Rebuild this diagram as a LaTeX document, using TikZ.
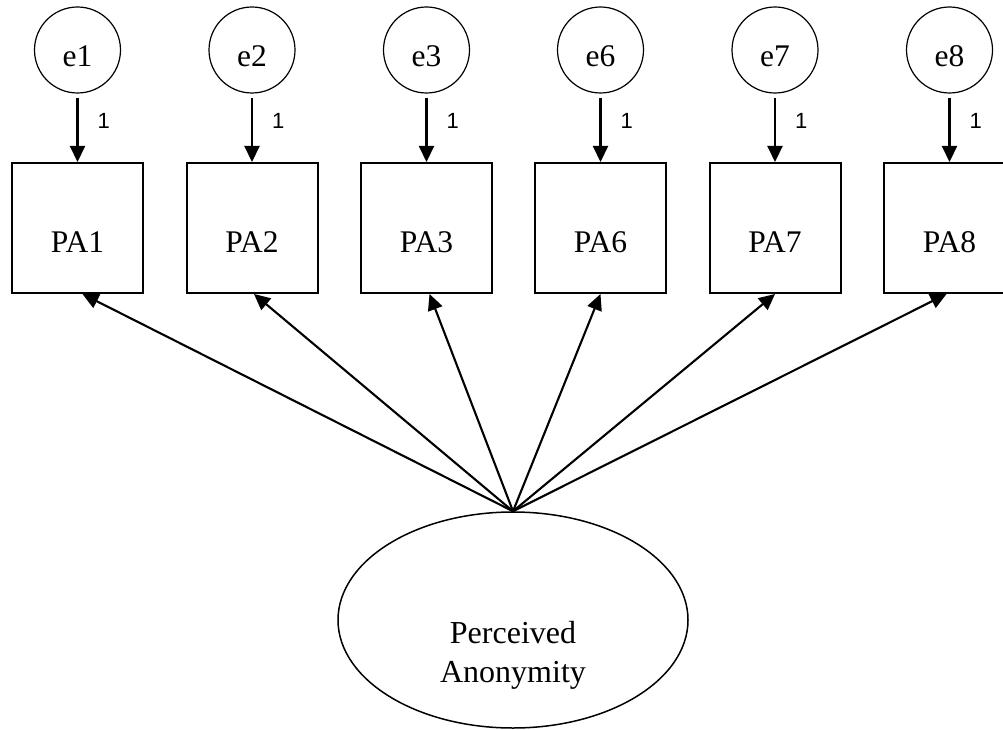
\documentclass[tikz,border=0pt]{standalone}
\usepackage{fontspec}
\setmainfont{Liberation Serif}
\newfontfamily\numfont{Liberation Sans}
\usetikzlibrary{arrows.meta,calc,shapes.geometric}
\tikzset{
  errc/.style={circle,draw,line width=1.2pt,inner sep=0pt,minimum size=86pt,
    font=\fontsize{31.5}{38}\selectfont,text height=34pt,text depth=0pt},
  obsbox/.style={rectangle,draw,line width=2pt,inner sep=0pt,minimum width=131pt,minimum height=130pt,
    font=\fontsize{31.5}{38}\selectfont,text height=48pt,text depth=0pt},
  latent/.style={ellipse,draw,line width=1.5pt,inner sep=0pt,minimum width=350pt,minimum height=216pt},
  ltext/.style={anchor=base,inner sep=0pt,font=\fontsize{32}{38}\selectfont},
  arr/.style={line width=2.1pt,-{Triangle[length=16pt,width=15pt]}},
  onelab/.style={anchor=west,inner sep=0pt,xshift=19pt,font=\numfont\fontsize{22}{26}\selectfont}
}
\begin{document}
\begin{tikzpicture}[x=1pt,y=-1pt]
\useasboundingbox (0,0) rectangle (1003,730);
\foreach \n/\x in {1/77.5,2/252,3/426.5,6/600.5,7/775,8/949.5}{
  \node[errc] (e\n) at (\x,50) {e\n};
  \node[obsbox] (PA\n) at (\x,228) {PA\n};
  \draw[arr,shorten <=4pt] (e\n) -- (PA\n) node[onelab,pos=0.4] {1};
}
\node[latent] (lat) at (513,620) {};
\node[ltext] (lat1) at (513,643) {Perceived};
\node[ltext] (lat2) at (513,682) {Anonymity};
\foreach \n/\dx in {1/5,2/2,3/3,6/0,7/0,8/-3}{
  \draw[arr] (lat.north) -- ($(PA\n.south)+(\dx,0)$);
}
\end{tikzpicture}
\end{document}
